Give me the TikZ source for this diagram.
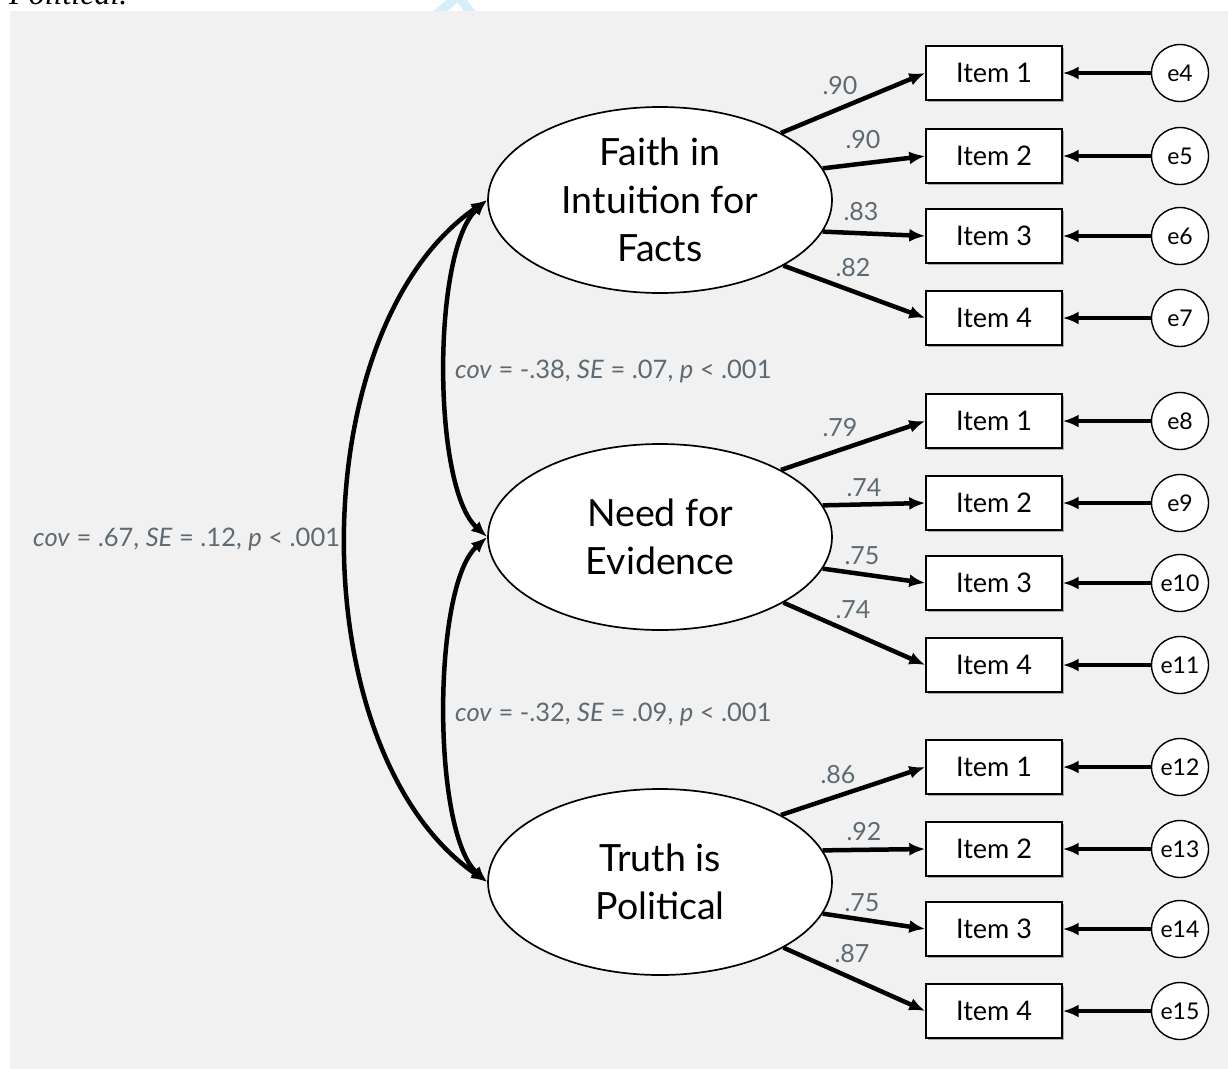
\documentclass[tikz,border=0pt]{standalone}
\usepackage{fontspec}
\setmainfont{Lato}
\newfontfamily\serifit{Liberation Serif}
\usetikzlibrary{shapes.geometric,arrows.meta,shadows}
\definecolor{bg}{HTML}{F1F1F1}
\definecolor{lab}{HTML}{5E6A72}
\definecolor{wm}{HTML}{D4EEFA}
\tikzset{
 latent/.style={ellipse, draw, line width=1.7pt, fill=white, minimum width=344pt, minimum height=186pt, inner sep=0pt},
 lattext/.style={align=center, font=\fontsize{37.5}{48}\selectfont},
 itembox/.style={rectangle, draw, line width=1.4pt, fill=white, minimum width=136pt, minimum height=54pt, font=\fontsize{27}{30}\selectfont,
   drop shadow={shadow xshift=1.5pt, shadow yshift=-1.8pt, fill=black!60, opacity=0.5}},
 errnode/.style={circle, draw, line width=1.4pt, fill=white, minimum size=57pt, inner sep=0pt, font=\fontsize{23}{24}\selectfont},
 loadarr/.style={line width=4.5pt, -{Latex[length=16pt,width=13pt]}},
 covarr/.style={line width=4.5pt, {Latex[length=16pt,width=13pt]}-{Latex[length=16pt,width=13pt]}},
 coef/.style={text=lab, font=\fontsize{25}{26}\selectfont, inner sep=0pt},
 covlab/.style={text=lab, font=\fontsize{25.5}{26}\selectfont, inner sep=0pt, anchor=west}
}
\begin{document}
\begin{tikzpicture}[x=1pt,y=-1pt]
\useasboundingbox (0,0) rectangle (1228,1068);
% watermark fragment and clipped caption
\draw[wm, line width=9pt] (437,14) -- (458,-4) -- (472,14);
\node[anchor=base west, inner sep=0pt, font=\serifit\itshape\fontsize{32}{34}\selectfont] (title) at (9,5) {Political.};
\fill[bg] (10,11) rectangle (1230,1070);

% latent variables
\node[latent] (faith) at (660,200) {};
\node[lattext] (faithT) at (660,200) {Faith in\\Intuition for\\Facts};
\node[latent] (need) at (660,537) {};
\node[lattext] (needT) at (660,537) {Need for\\Evidence};
\node[latent] (truth) at (660,882) {};
\node[lattext] (truthT) at (660,882) {Truth is\\Political};

% items and errors
\foreach \lat/\g/\ya/\yb/\yc/\yd/\ea/\eb/\ec/\ed in {faith/1/73/156/236/318/4/5/6/7, need/2/421/503/583/665/8/9/10/11, truth/3/767/849/929/1011/12/13/14/15}{
  \node[itembox] (i\g a) at (994,\ya) {Item 1};
  \node[itembox] (i\g b) at (994,\yb) {Item 2};
  \node[itembox] (i\g c) at (994,\yc) {Item 3};
  \node[itembox] (i\g d) at (994,\yd) {Item 4};
  \node[errnode] (e\ea) at (1180,\ya) {e\ea};
  \node[errnode] (e\eb) at (1180,\yb) {e\eb};
  \node[errnode] (e\ec) at (1180,\yc) {e\ec};
  \node[errnode] (e\ed) at (1180,\yd) {e\ed};
  \draw[loadarr] (\lat.29) -- (i\g a.west);
  \draw[loadarr] (\lat.11) -- (i\g b.west);
  \draw[loadarr] (\lat.-11) -- (i\g c.west);
  \draw[loadarr] (\lat.-28) -- (i\g d.west);
  \draw[loadarr] (e\ea.west) -- (i\g a.east);
  \draw[loadarr] (e\eb.west) -- (i\g b.east);
  \draw[loadarr] (e\ec.west) -- (i\g c.east);
  \draw[loadarr] (e\ed.west) -- (i\g d.east);
}

% loadings
\node[coef] (c1) at (840,86) {.90};
\node[coef] (c2) at (863,140) {.90};
\node[coef] (c3) at (861,212) {.83};
\node[coef] (c4) at (853,268) {.82};
\node[coef] (c5) at (840,428) {.79};
\node[coef] (c6) at (864,488) {.74};
\node[coef] (c7) at (862,556) {.75};
\node[coef] (c8) at (853,610) {.74};
\node[coef] (c9) at (838,775) {.86};
\node[coef] (c10) at (864,832) {.92};
\node[coef] (c11) at (862,903) {.75};
\node[coef] (c12) at (852,954) {.87};

% covariances
\draw[covarr] (faith.west) .. controls (432,250) and (432,487) .. (need.west);
\draw[covarr] (need.west) .. controls (432,587) and (432,832) .. (truth.west);
\draw[covarr] (faith.west) .. controls (300,330) and (300,752) .. (truth.west);
\node[covlab] (cv1) at (455,371) {\textit{cov} = -.38, \textit{SE} = .07, \textit{p} < .001};
\node[covlab] (cv2) at (455,714) {\textit{cov} = -.32, \textit{SE} = .09, \textit{p} < .001};
\node[covlab] (cv3) at (33,539) {\textit{cov} = .67, \textit{SE} = .12, \textit{p} < .001};
\end{tikzpicture}
\end{document}
